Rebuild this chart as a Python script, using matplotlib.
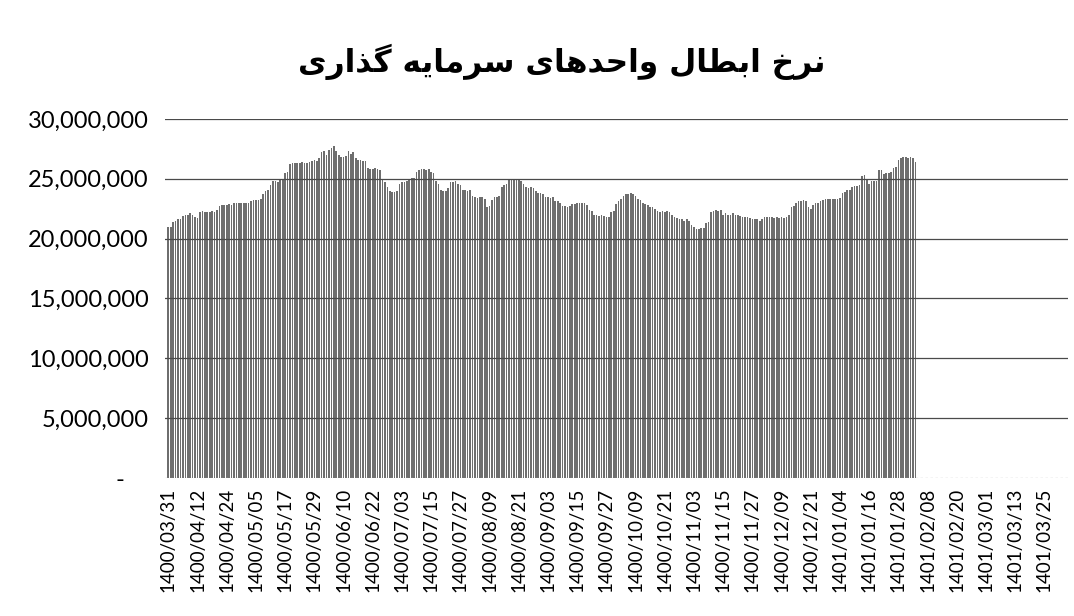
import matplotlib.pyplot as plt
import numpy as np

# daily redemption price, in millions of rials
price_m = [
    21.0, 21.0, 21.4, 21.5, 21.6, 21.6, 21.9, 22.0, 22.0, 22.1,
    22.0, 21.8, 21.7, 22.2, 22.3, 22.2, 22.2, 22.2, 22.3, 22.2,
    22.4, 22.7, 22.8, 22.8, 22.8, 22.9, 22.8, 23.0, 23.0, 23.0,
    23.0, 23.0, 23.0, 23.0, 23.1, 23.2, 23.2, 23.2, 23.3, 23.7,
    24.0, 24.1, 24.5, 24.8, 24.8, 24.7, 24.9, 25.0, 25.5, 25.6,
    26.2, 26.3, 26.3, 26.3, 26.3, 26.4, 26.3, 26.3, 26.4, 26.5,
    26.6, 26.5, 26.7, 27.2, 27.3, 27.0, 27.4, 27.6, 27.7, 27.3,
    27.0, 26.8, 26.8, 26.9, 27.3, 27.1, 27.2, 26.7, 26.6, 26.6,
    26.5, 26.5, 25.9, 25.8, 25.8, 25.9, 25.8, 25.7, 24.9, 24.7,
    24.3, 24.0, 23.9, 23.9, 24.0, 24.6, 24.7, 24.7, 24.8, 25.0,
    25.1, 25.1, 25.6, 25.7, 25.8, 25.8, 25.7, 25.8, 25.6, 25.5,
    24.8, 24.6, 24.1, 24.0, 24.0, 24.2, 24.7, 24.7, 24.8, 24.6,
    24.5, 24.1, 24.1, 24.0, 24.1, 23.6, 23.5, 23.4, 23.5, 23.5,
    23.3, 22.6, 22.7, 23.2, 23.5, 23.5, 23.6, 24.3, 24.5, 24.6,
    24.9, 24.9, 25.0, 24.9, 24.9, 24.8, 24.6, 24.3, 24.2, 24.3,
    24.2, 24.0, 23.8, 23.8, 23.7, 23.5, 23.5, 23.4, 23.5, 23.1,
    23.1, 23.0, 22.7, 22.7, 22.6, 22.7, 22.9, 22.9, 23.0, 23.0,
    23.0, 23.0, 22.8, 22.4, 22.3, 22.0, 22.0, 21.9, 22.0, 21.9,
    21.8, 21.8, 22.2, 22.3, 22.9, 23.1, 23.3, 23.6, 23.7, 23.7,
    23.8, 23.7, 23.6, 23.3, 23.2, 23.0, 22.9, 22.8, 22.6, 22.6,
    22.5, 22.3, 22.2, 22.3, 22.2, 22.3, 22.2, 22.0, 21.8, 21.7,
    21.6, 21.6, 21.5, 21.6, 21.5, 21.1, 21.0, 20.8, 20.8, 20.9,
    20.9, 21.3, 21.4, 22.2, 22.3, 22.4, 22.3, 22.4, 22.0, 22.1,
    22.0, 22.0, 22.1, 22.0, 22.0, 21.9, 21.8, 21.8, 21.8, 21.7,
    21.6, 21.6, 21.6, 21.5, 21.6, 21.8, 21.8, 21.8, 21.8, 21.7,
    21.8, 21.7, 21.8, 21.7, 21.8, 22.0, 22.6, 22.7, 23.0, 23.1,
    23.1, 23.2, 23.1, 22.6, 22.5, 22.8, 23.0, 23.0, 23.1, 23.2,
    23.3, 23.3, 23.3, 23.3, 23.3, 23.3, 23.4, 23.8, 23.9, 24.1,
    24.1, 24.3, 24.4, 24.4, 24.5, 25.2, 25.3, 24.9, 24.6, 24.8,
    24.8, 24.8, 25.7, 25.7, 25.4, 25.5, 25.5, 25.6, 25.9, 26.0,
    26.6, 26.7, 26.8, 26.8, 26.7, 26.8, 26.7, 26.4,
]

# one label every 12 days along the axis
date_labels = [
    "1400/03/31", "1400/04/12", "1400/04/24", "1400/05/05", "1400/05/17",
    "1400/05/29", "1400/06/10", "1400/06/22", "1400/07/03", "1400/07/15",
    "1400/07/27", "1400/08/09", "1400/08/21", "1400/09/03", "1400/09/15",
    "1400/09/27", "1400/10/09", "1400/10/21", "1400/11/03", "1400/11/15",
    "1400/11/27", "1400/12/09", "1400/12/21", "1401/01/04", "1401/01/16",
    "1401/01/28", "1401/02/08", "1401/02/20", "1401/03/01", "1401/03/13",
    "1401/03/25",
]
label_step = 12
y_ticks = [0, 5e6, 10e6, 15e6, 20e6, 25e6, 30e6]

# title "نرخ ابطال واحدهای سرمایه گذاری" in shaped presentation forms,
# reversed into visual order because matplotlib does no Arabic shaping
words = [
    "\uFEE7\uFEAE\uFEA5",                          # نرخ
    "\uFE8D\uFE91\uFEC4\uFE8E\uFEDD",              # ابطال
    "\uFEED\uFE8D\uFEA3\uFEAA\uFEEB\uFE8E\uFBFC",  # واحدهای
    "\uFEB3\uFEAE\uFEE3\uFE8E\uFBFE\uFEEA",        # سرمایه
    "\uFB94\uFEAC\uFE8D\uFEAD\uFBFC",              # گذاری
]
title = " ".join(words)[::-1]

values = np.array(price_m) * 1e6
days = np.arange(len(values))

fig = plt.figure(figsize=(10.74, 6.16), dpi=100)
ax = fig.add_axes([0.154, 0.224, 0.84, 0.583])

ax.bar(days, values, width=0.68, color="#6e6e6e", linewidth=0, zorder=1)

ax.set_ylim(0, 30e6)
ax.set_xlim(-1.2, 369.5)
ax.set_yticks(y_ticks)
ax.set_yticklabels(["-    "] + [f"{v:,.0f}" for v in y_ticks[1:]],
                   fontsize=17, family="Lato")
ax.set_xticks(np.arange(len(date_labels)) * label_step)
ax.set_xticklabels(date_labels, rotation=90, fontsize=13.5, family="Lato")
ax.tick_params(axis="y", length=0, pad=12)
ax.tick_params(axis="x", length=0, pad=7)

# gridlines show through the light scanned bars, so draw them on top
for v in y_ticks[1:]:
    ax.axhline(v, color="#4a4a4a", lw=0.9, zorder=2)
ax.axhline(0, color="#aaaaaa", lw=0.9, ls=(0, (2, 2)), zorder=2)

for s in ax.spines.values():
    s.set_visible(False)

fig.text(0.523, 0.9, title, ha="center", va="center", fontsize=22.5,
         fontweight="bold", family=["DejaVu Sans"])

fig.savefig("out.png", dpi=100, facecolor="white")
